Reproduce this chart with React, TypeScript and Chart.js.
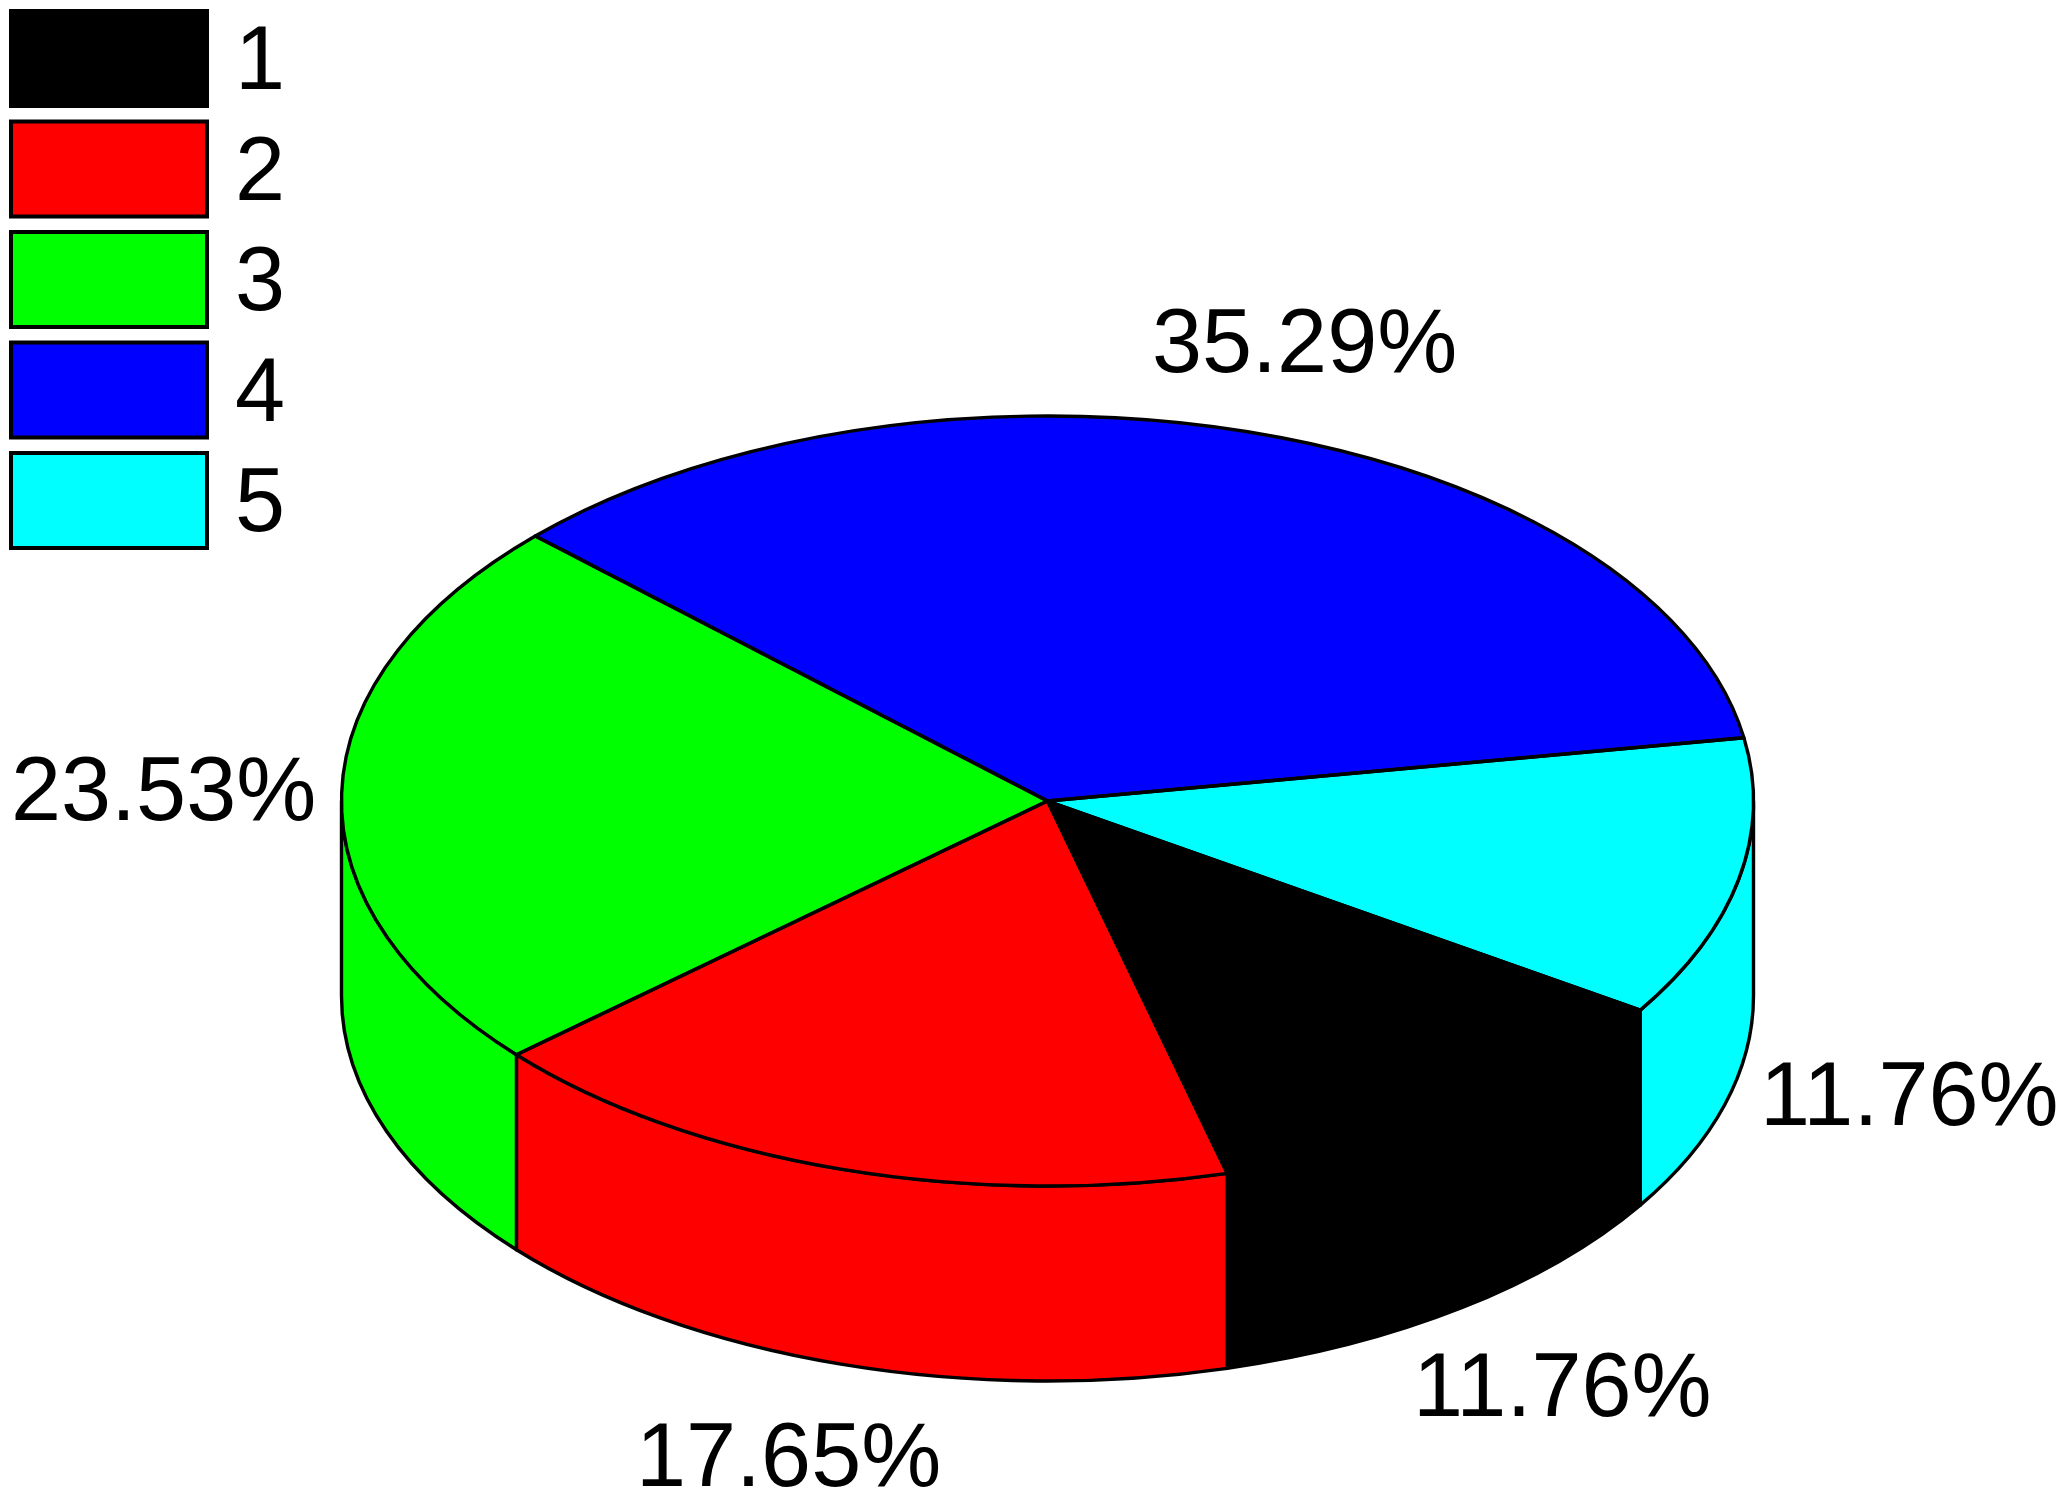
import React, { useEffect, useRef } from "react";
import { Chart, registerables } from "chart.js";

Chart.register(...registerables);

const categories = ["1", "2", "3", "4", "5"];
const values = [2, 3, 4, 6, 2];
const colors = ["#000000", "#ff0000", "#00ff00", "#0000ff", "#00ffff"];
const percentLabels = ["11.76%", "17.65%", "23.53%", "35.29%", "11.76%"];
const labelX = [1413, 636, 11, 1152, 1760];
const labelY = [1416, 1486, 820, 372, 1125];

const FONT = "'Liberation Sans', Arial, sans-serif";
const CX = 1047.5;
const CY = 801;
const RX = 706;
const RY = 385;
const DEPTH = 195;
const SQUASH = RY / RX;
const LINE = 3.4;
const TAU = Math.PI * 2;

const pie3d = {
  id: "pie3d",
  afterLayout(chart: any) {
    const legend = chart.legend;
    legend.left = -87.5;
    legend.top = -87.5;
    legend.right = 285;
  },
  beforeDatasetsDraw(chart: any) {
    const { ctx } = chart;
    const arcs = chart.getDatasetMeta(0).data;
    ctx.save();
    ctx.lineWidth = LINE;
    ctx.strokeStyle = "#000";
    ctx.lineJoin = "round";
    arcs.forEach((arc: any, i: number) => {
      for (const shift of [0, TAU]) {
        const a = Math.max(arc.startAngle - shift, 0);
        const b = Math.min(arc.endAngle - shift, Math.PI);
        if (b <= a) continue;
        ctx.beginPath();
        ctx.ellipse(CX, CY, RX, RY, 0, a, b);
        ctx.ellipse(CX, CY + DEPTH, RX, RY, 0, b, a, true);
        ctx.closePath();
        ctx.fillStyle = colors[i];
        ctx.fill();
        ctx.stroke();
      }
    });
    ctx.restore();
    // squash the round pie into the tilted top face
    ctx.save();
    const c = arcs[0];
    ctx.translate(CX, CY);
    ctx.scale(1, SQUASH);
    ctx.translate(-c.x, -c.y);
  },
  afterDatasetsDraw(chart: any) {
    const { ctx } = chart;
    ctx.restore();
    const arcs = chart.getDatasetMeta(0).data;
    ctx.save();
    ctx.lineWidth = LINE;
    ctx.strokeStyle = "#000";
    ctx.lineJoin = "round";
    arcs.forEach((arc: any) => {
      ctx.beginPath();
      ctx.moveTo(CX, CY);
      ctx.ellipse(CX, CY, RX, RY, 0, arc.startAngle, arc.endAngle);
      ctx.closePath();
      ctx.stroke();
    });
    ctx.fillStyle = "#000";
    ctx.font = `90px ${FONT}`;
    ctx.textAlign = "left";
    ctx.textBaseline = "alphabetic";
    percentLabels.forEach((t, i) => ctx.fillText(t, labelX[i], labelY[i]));
    ctx.restore();
  },
};

export default function App() {
  const ref = useRef<HTMLCanvasElement>(null);
  useEffect(() => {
    const chart = new Chart(ref.current as HTMLCanvasElement, {
      type: "pie",
      data: {
        labels: categories,
        datasets: [
          {
            data: values,
            backgroundColor: colors,
            borderWidth: 0,
            radius: RX,
          },
        ],
      },
      options: {
        responsive: false,
        animation: false,
        rotation: 122.9,
        layout: { padding: 0 },
        plugins: {
          tooltip: { enabled: false },
          title: { display: false },
          legend: {
            display: true,
            position: "chartArea",
            align: "start",
            labels: {
              boxWidth: 196,
              boxHeight: 95,
              padding: 98.5,
              color: "#000",
              textAlign: "right",
              font: { family: FONT, size: 90, lineHeight: 6 / 90 },
              generateLabels: () =>
                categories.map((text, i) => ({
                  // a blank first line nudges the digit down from the box's centre
                  text: ["", text],
                  index: i,
                  fillStyle: colors[i],
                  strokeStyle: "#000",
                  lineWidth: 4,
                  hidden: false,
                })),
            },
          },
        },
      },
      plugins: [pie3d],
    } as any);
    return () => chart.destroy();
  }, []);
  return (
    <canvas
      ref={ref}
      width={2070}
      height={1505}
      style={{ position: "fixed", left: 0, top: 0, display: "block", background: "#fff" }}
    />
  );
}
